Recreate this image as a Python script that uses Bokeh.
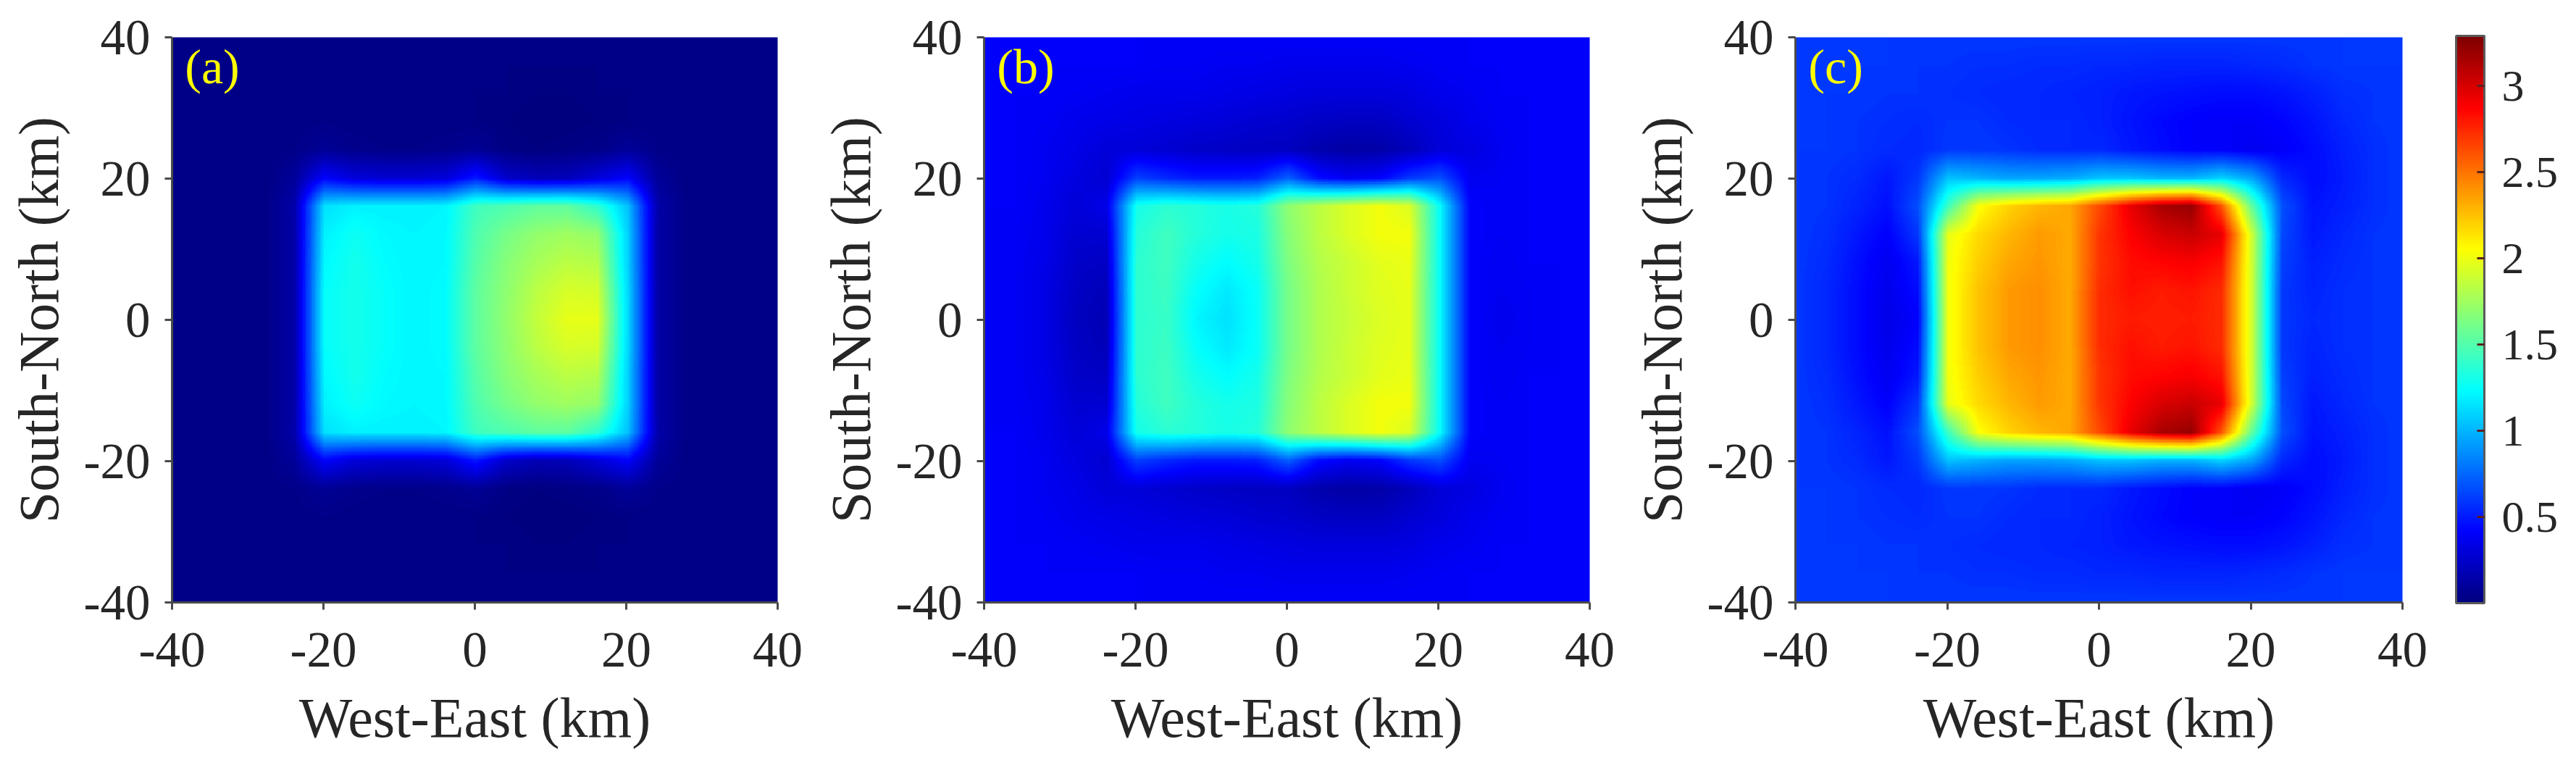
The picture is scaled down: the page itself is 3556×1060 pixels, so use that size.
import numpy as np
from bokeh.embed import file_html
from bokeh.resources import INLINE
from bokeh.layouts import row
from bokeh.models import ColorBar, FixedTicker, Label, LinearColorMapper
from bokeh.plotting import figure

X_TICKS = [-40, -20, 0, 20, 40]
Y_TICKS = [-40, -20, 0, 20, 40]
TICK_LABELS = ["-40", "-20", "0", "20", "40"]
CB_TICKS = [0.5, 1, 1.5, 2, 2.5, 3]
CB_LABELS = ["0.5", "1", "1.5", "2", "2.5", "3"]
X_LABEL = "West-East (km)"
Y_LABEL = "South-North (km)"
PANELS = ["(a)", "(b)", "(c)"]
VMIN = 0.0
VMAX = 3.29

# Field sampled every 4 km; columns x=-40..40, rows listed from y=40 down to y=0.
# The field is top-bottom symmetric, so rows for y<0 are the same rows reversed.
FIELD_A = [
    [.03,.03,.03,.03,.03,.03,.03,.03,.03,.03,.03,.03,.03,.03,.03,.03,.03,.03,.03,.03,.03],
    [.03,.03,.03,.03,.03,.03,.03,.03,.03,.03,.03,.03,.03,.03,.03,.03,.03,.03,.03,.03,.03],
    [.03,.03,.03,.03,.03,.03,.03,.03,.03,.03,.03,.03,.02,.02,.03,.03,.03,.03,.03,.03,.03],
    [.03,.03,.03,.03,.03,.04,.03,.03,.03,.03,.03,.02,.01,.01,.02,.03,.03,.03,.03,.03,.03],
    [.03,.03,.03,.03,.04,.08,.06,.05,.05,.06,.08,.03,.02,.03,.05,.10,.04,.03,.03,.03,.03],
    [.03,.03,.03,.03,.10,.42,.30,.28,.28,.30,.50,.25,.18,.20,.30,.42,.10,.03,.03,.03,.03],
    [.03,.03,.03,.03,.15,1.15,1.20,1.20,1.20,1.22,1.45,1.50,1.55,1.55,1.40,1.05,.15,.03,.03,.03,.03],
    [.03,.03,.03,.03,.14,1.20,1.28,1.23,1.22,1.23,1.50,1.62,1.72,1.75,1.72,1.10,.14,.03,.03,.03,.03],
    [.03,.03,.03,.03,.14,1.23,1.30,1.24,1.22,1.23,1.52,1.68,1.78,1.85,1.82,1.10,.14,.03,.03,.03,.03],
    [.03,.03,.03,.03,.14,1.25,1.30,1.25,1.22,1.24,1.55,1.70,1.84,1.94,1.92,1.12,.14,.03,.03,.03,.03],
    [.03,.03,.03,.03,.14,1.25,1.30,1.25,1.22,1.24,1.55,1.72,1.87,1.98,1.98,1.12,.14,.03,.03,.03,.03],
]
FIELD_B = [
    [.40,.40,.40,.40,.40,.40,.40,.40,.40,.40,.40,.40,.40,.40,.40,.40,.40,.40,.40,.40,.40],
    [.40,.40,.40,.40,.40,.40,.39,.39,.38,.38,.37,.37,.37,.37,.38,.39,.40,.40,.40,.40,.40],
    [.40,.40,.40,.39,.38,.37,.37,.36,.35,.34,.33,.32,.31,.32,.33,.36,.38,.40,.40,.40,.40],
    [.40,.40,.39,.37,.35,.34,.33,.31,.30,.28,.26,.24,.22,.23,.27,.32,.36,.39,.40,.40,.40],
    [.40,.40,.38,.35,.30,.30,.28,.25,.24,.22,.22,.16,.13,.15,.20,.30,.33,.38,.40,.40,.40],
    [.40,.40,.38,.33,.28,.62,.55,.50,.50,.52,.72,.45,.38,.42,.60,.68,.38,.39,.40,.40,.40],
    [.40,.40,.37,.30,.35,1.30,1.38,1.35,1.32,1.35,1.70,1.85,1.95,2.03,1.95,1.25,.42,.39,.40,.40,.40],
    [.40,.39,.36,.28,.28,1.35,1.45,1.35,1.30,1.33,1.68,1.85,1.95,2.03,2.03,1.25,.42,.39,.40,.40,.40],
    [.40,.39,.35,.25,.24,1.38,1.45,1.30,1.24,1.30,1.65,1.82,1.90,1.97,2.00,1.25,.42,.38,.40,.40,.40],
    [.40,.39,.34,.24,.20,1.38,1.43,1.25,1.17,1.27,1.63,1.81,1.89,1.96,1.99,1.25,.42,.38,.39,.40,.40],
    [.40,.39,.34,.23,.18,1.38,1.42,1.22,1.15,1.26,1.62,1.80,1.88,1.95,1.98,1.25,.42,.37,.39,.40,.40],
]
FIELD_C = [
    [.60,.60,.60,.60,.60,.60,.60,.60,.60,.60,.60,.60,.60,.60,.60,.60,.60,.60,.60,.60,.60],
    [.60,.60,.60,.60,.59,.58,.57,.57,.56,.56,.55,.54,.53,.53,.53,.55,.56,.58,.60,.60,.60],
    [.60,.60,.60,.59,.58,.57,.56,.55,.54,.53,.52,.50,.48,.47,.46,.46,.48,.52,.57,.59,.60],
    [.60,.60,.59,.57,.56,.58,.58,.56,.55,.54,.52,.48,.44,.42,.41,.41,.43,.48,.54,.58,.60],
    [.60,.60,.58,.56,.55,.60,.60,.58,.56,.55,.54,.50,.45,.42,.42,.38,.40,.45,.52,.57,.60],
    [.60,.59,.56,.50,.60,1.05,1.00,.95,.95,.97,1.05,1.05,1.00,1.00,1.10,.95,.55,.45,.51,.57,.60],
    [.60,.58,.53,.47,.68,1.45,2.05,2.20,2.30,2.35,2.65,2.95,3.15,3.22,2.60,1.55,.68,.48,.52,.57,.60],
    [.60,.57,.50,.42,.60,1.98,2.18,2.30,2.38,2.33,2.72,2.88,3.00,3.05,2.95,1.90,.65,.50,.54,.58,.60],
    [.60,.56,.47,.38,.50,2.02,2.22,2.35,2.40,2.33,2.72,2.85,2.87,2.90,2.82,1.90,.62,.52,.56,.58,.60],
    [.60,.55,.45,.36,.45,2.02,2.25,2.38,2.42,2.33,2.74,2.83,2.80,2.82,2.75,1.90,.60,.53,.57,.59,.60],
    [.60,.55,.45,.35,.42,2.02,2.25,2.38,2.42,2.33,2.74,2.80,2.78,2.80,2.74,1.90,.60,.54,.57,.59,.60],
]
FIELDS = [FIELD_A, FIELD_B, FIELD_C]

INK = "#262626"
FONT = "Liberation Serif"


def jet_rgb(n=256):
    out = []
    for i in range(n):
        t = i / (n - 1)
        r = min(max(min(4 * t - 1.5, -4 * t + 4.5), 0), 1)
        g = min(max(min(4 * t - 0.5, -4 * t + 3.5), 0), 1)
        b = min(max(min(4 * t + 0.5, -4 * t + 2.5), 0), 1)
        out.append((r, g, b))
    return out


JET = jet_rgb()
jet_palette = ["#%02x%02x%02x" % tuple(round(v * 255) for v in c) for c in JET]
grey_palette = ["#%02x%02x%02x" % (i, i, i) for i in range(256)]

# The field is drawn as a scalar raster so that smoothing happens on values, and is
# then coloured with the jet table; the colour bar uses the jet palette directly.
field_mapper = LinearColorMapper(palette=grey_palette, low=VMIN, high=VMAX)
bar_mapper = LinearColorMapper(palette=jet_palette, low=VMIN, high=VMAX)


def panel(idx, width, left, right):
    p = figure(width=width, height=1060, x_range=(-40, 40), y_range=(-40, 40),
               output_backend="svg", toolbar_location=None,
               min_border_left=left, min_border_right=right,
               min_border_top=51, min_border_bottom=229)
    p.grid.visible = False
    p.outline_line_color = None
    p.background_fill_color = None
    p.border_fill_color = None
    rows = FIELDS[idx]
    image = np.array(rows + rows[-2::-1], dtype=float)[::-1]
    p.image(image=[image], x=-42, y=-42, dw=84, dh=84, color_mapper=field_mapper)
    for ax, ticks, label in ((p.xaxis[0], X_TICKS, X_LABEL), (p.yaxis[0], Y_TICKS, Y_LABEL)):
        ax.ticker = FixedTicker(ticks=ticks)
        ax.major_label_overrides = dict(zip(ticks, TICK_LABELS))
        ax.axis_label = label
        ax.axis_label_text_font = FONT
        ax.axis_label_text_font_size = "78px"
        ax.axis_label_text_font_style = "normal"
        ax.axis_label_text_color = INK
        ax.major_label_text_font = FONT
        ax.major_label_text_font_size = "69px"
        ax.major_label_text_color = INK
        ax.major_tick_in = 0
        ax.major_tick_out = 10
        ax.major_tick_line_width = 3
        ax.major_tick_line_color = "#4a4a4a"
        ax.minor_tick_line_color = None
        ax.axis_line_width = 3
        ax.axis_line_color = "#4a4a4a"
        ax.major_label_standoff = 20
        ax.axis_label_standoff = 16
    p.xaxis[0].major_label_standoff = 32
    p.xaxis[0].axis_label_standoff = 24
    p.add_layout(Label(x=-38.3, y=35.8, text=PANELS[idx], text_font=FONT, text_font_size="68px",
                       text_color="#ffff00", text_baseline="alphabetic"))
    return p


a = panel(0, 1125, 237, 52)
b = panel(1, 1115, 233, 46)
c = panel(2, 1308, 238, 232)

cb = ColorBar(color_mapper=bar_mapper, ticker=FixedTicker(ticks=CB_TICKS),
              major_label_overrides=dict(zip(CB_TICKS, CB_LABELS)),
              location=(912, -1), width=39, height=783, padding=0, margin=0,
              major_label_text_font=FONT, major_label_text_font_size="62px",
              major_label_text_color=INK, label_standoff=24,
              major_tick_in=10, major_tick_out=0, major_tick_line_color="#5a2020",
              major_tick_line_width=3, minor_tick_line_color=None,
              bar_line_color="#5a5a5a", bar_line_width=3,
              background_fill_color=None, border_line_color=None)
c.add_layout(cb)

layout = row(a, b, c, spacing=0)

tables = {ch: " ".join("%.4f" % c_[i] for c_ in JET) for i, ch in enumerate("RGB")}
SHADE = """<script>
Object.defineProperty(CanvasRenderingContext2D.prototype, 'imageSmoothingEnabled',
  {configurable: true, get: function () { return true; }, set: function (v) {}});
(function () {
  var NS = 'http://www.w3.org/2000/svg';
  var T = {R: '%(R)s', G: '%(G)s', B: '%(B)s'};
  function apply(img) {
    if (parseFloat(img.getAttribute('width')) < 100) return;
    var svg = img.ownerSVGElement;
    if (!svg.querySelector('#jetshade')) {
      var f = document.createElementNS(NS, 'filter');
      f.setAttribute('id', 'jetshade');
      f.setAttribute('color-interpolation-filters', 'sRGB');
      var ct = document.createElementNS(NS, 'feComponentTransfer');
      ['R', 'G', 'B'].forEach(function (k) {
        var fn = document.createElementNS(NS, 'feFunc' + k);
        fn.setAttribute('type', 'table');
        fn.setAttribute('tableValues', T[k]);
        ct.appendChild(fn);
      });
      f.appendChild(ct);
      var d = document.createElementNS(NS, 'defs');
      d.appendChild(f);
      svg.insertBefore(d, svg.firstChild);
    }
    img.setAttribute('filter', 'url(#jetshade)');
  }
  function walk(root) {
    root.querySelectorAll('*').forEach(function (el) {
      if (el.shadowRoot) walk(el.shadowRoot);
      if (el.tagName.toLowerCase() === 'image') apply(el);
    });
  }
  var n = 0;
  var t = setInterval(function () { walk(document); if (++n > 100) clearInterval(t); }, 50);
})();
</script>""" % tables
html = file_html(layout, INLINE).replace("<head>", "<head>" + SHADE, 1)
open("out.html", "w").write(html)
